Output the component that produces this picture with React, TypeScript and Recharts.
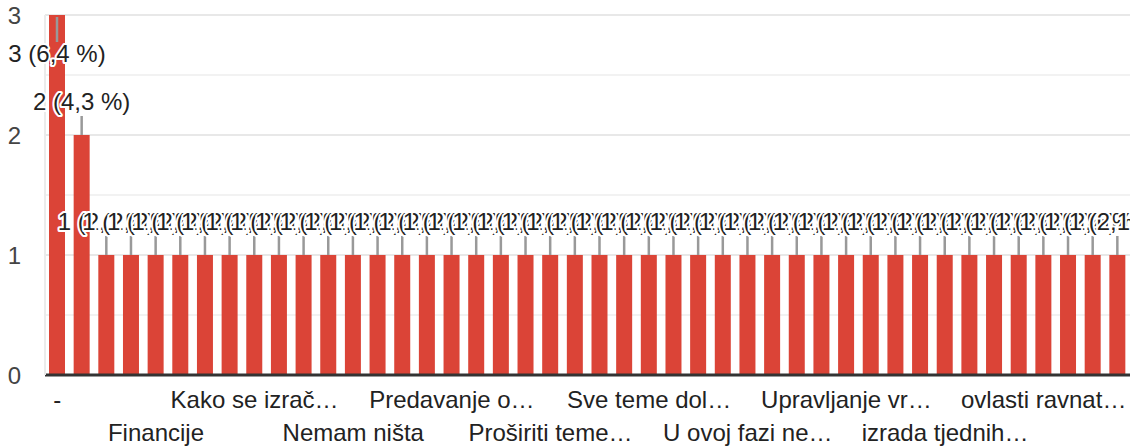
import React from "react";
import { BarChart, Bar, XAxis, YAxis, CartesianGrid, LabelList } from "recharts";

// Answers, in the order the chart lists them (only every 4th name is shown on the axis)
const categories = [
  "-",
  "Ništa",
  "Ekonomija",
  "Etika u sportu",
  "Financije",
  "Fiziologija…",
  "Igre s loptom",
  "Izrada plana…",
  "Kako se izrač…",
  "Komunikacija…",
  "Metodika…",
  "Motivacija…",
  "Nemam ništa",
  "Nemam prijedlog",
  "Nutricionizam",
  "Pravilna prehrana",
  "Predavanje o…",
  "Prehrana…",
  "Prevencija ozljeda",
  "Primjeri iz prakse",
  "Proširiti teme…",
  "Rad s djecom",
  "Regeneracija…",
  "Sportska psihologija",
  "Sve teme dol…",
  "Taktika igre",
  "Trening snage",
  "U budućnosti…",
  "U ovoj fazi ne…",
  "Uloga trenera…",
  "Upravljanje klubom",
  "Upravljanje timom",
  "Upravljanje vr…",
  "Više praktičnih…",
  "Zakonska regulativa",
  "analiza utakmica",
  "izrada tjednih…",
  "kondicijska priprema",
  "marketing u sportu",
  "nemam",
  "ovlasti ravnat…",
  "planiranje sezone",
  "rad s roditeljima",
  "vođenje kluba",
];

const counts = [
  3, 2, 1, 1, 1, 1, 1, 1, 1, 1, 1, 1, 1, 1, 1, 1, 1, 1, 1, 1, 1, 1,
  1, 1, 1, 1, 1, 1, 1, 1, 1, 1, 1, 1, 1, 1, 1, 1, 1, 1, 1, 1, 1, 1,
];

// gridlines every 0.5, labels only on whole numbers
const gridTicks = [0, 0.5, 1, 1.5, 2, 2.5, 3];

const total = counts.reduce((a, b) => a + b, 0);
const data = categories.map((name, i) => ({ name, count: counts[i] }));

const FONT = "Arial, 'Liberation Sans', sans-serif";
const W = 1142;
const H = 447;
const MARGIN = { top: 15, right: 12, left: 0, bottom: 0 };
const LABEL_EVERY = 4;

const XTick = (props: any) => {
  const { x, y, payload } = props;
  const idx = categories.indexOf(payload.value);
  const row = Math.floor(idx / LABEL_EVERY) % 2;
  return (
    <text x={x} y={y + (row ? 66 : 33)} textAnchor="middle" fill="#222" fontSize={24} fontFamily={FONT}>
      {payload.value}
    </text>
  );
};

const YTick = (props: any) => {
  const { x, y, payload } = props;
  if (!Number.isInteger(payload.value)) return <g />;
  return (
    <text x={x} y={y} dy="0.355em" textAnchor="end" fill="#444" fontSize={24} fontFamily={FONT}>
      {payload.value}
    </text>
  );
};

const GridLine = (props: any) => {
  const { x1, x2, y1, y2, index } = props;
  return (
    <line
      x1={x1}
      x2={x2}
      y1={y1}
      y2={y2}
      stroke={index % 2 ? "#f2f2f2" : "#e8e8e8"}
      strokeWidth={2}
    />
  );
};

const renderAnnotation = (props: any) => {
  const { x, y, width, value } = props;
  const cx = x + width / 2;
  const pct = ((value / total) * 100).toFixed(1).replace(".", ",");
  const label = `${value} (${pct} %)`;
  // no room above the tallest bar -> annotation hangs down inside it
  const below = y - 45 < MARGIN.top;
  const stemStart = below ? y + 2 : y;
  const stemEnd = below ? y + 27 : y - 19;
  const baseline = below ? y + 47 : y - 25;
  return (
    <g clipPath="url(#annClip)">
      <line x1={cx} x2={cx} y1={stemStart} y2={stemEnd} stroke="#999" strokeWidth={2.5} />
      <text
        x={cx}
        y={baseline}
        textAnchor="middle"
        fontSize={24}
        fontFamily={FONT}
        fill="#222"
        stroke="#fff"
        strokeWidth={4}
        strokeLinejoin="round"
        paintOrder="stroke"
      >
        {label}
      </text>
    </g>
  );
};

export default function App() {
  return (
    <div style={{ position: "absolute", left: 0, top: 0, width: W, height: H, background: "#fff" }}>
      <BarChart width={W} height={H} data={data} margin={MARGIN} barSize={16}>
        <defs>
          <clipPath id="annClip">
            <rect x={0} y={0} width={W - MARGIN.right} height={H} />
          </clipPath>
        </defs>
        <CartesianGrid vertical={false} horizontal={(p: any) => <GridLine {...p} />} />
        <XAxis
          dataKey="name"
          interval={LABEL_EVERY - 1}
          tick={<XTick />}
          tickLine={false}
          tickSize={0}
          tickMargin={0}
          height={72}
          axisLine={{ stroke: "#333", strokeWidth: 3 }}
        />
        <YAxis
          domain={[0, 3]}
          ticks={gridTicks}
          interval={0}
          width={45}
          tickLine={false}
          tickSize={0}
          tickMargin={24}
          axisLine={{ stroke: "#ebebeb", strokeWidth: 2 }}
          tick={<YTick />}
        />
        <YAxis
          yAxisId="edge"
          orientation="right"
          domain={[0, 3]}
          width={0}
          tick={false}
          tickLine={false}
          axisLine={{ stroke: "#ebebeb", strokeWidth: 2 }}
        />
        <Bar dataKey="count" fill="#db4437" isAnimationActive={false}>
          <LabelList dataKey="count" content={renderAnnotation} />
        </Bar>
      </BarChart>
    </div>
  );
}
